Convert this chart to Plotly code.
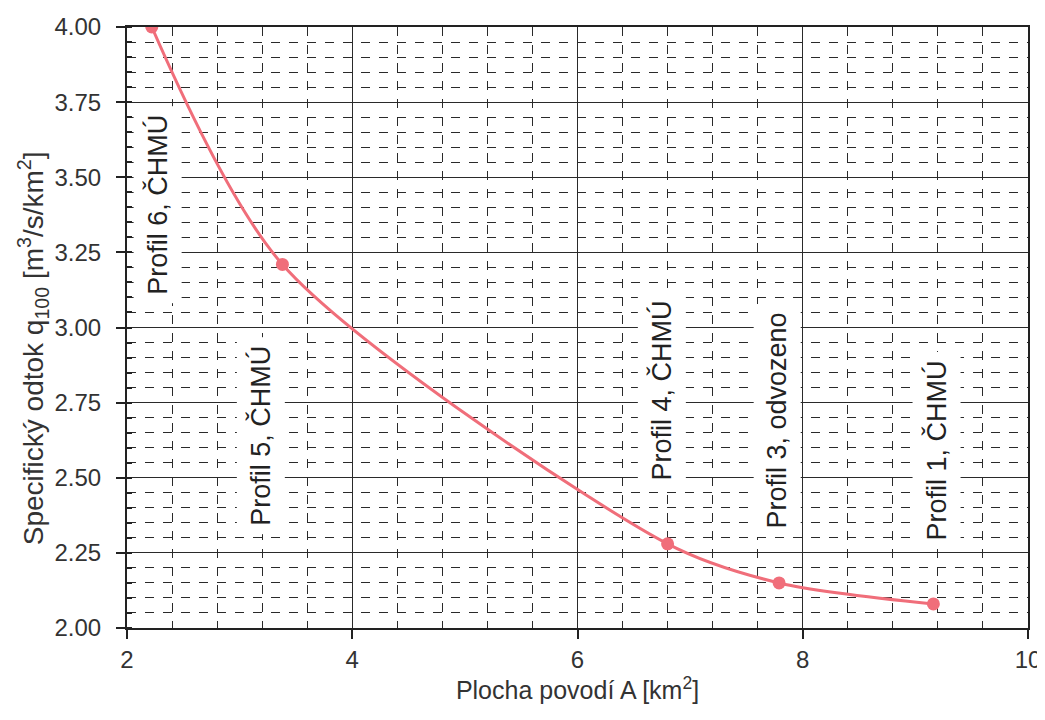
import plotly.graph_objects as go

area_km2 = [2.22, 3.38, 6.80, 7.79, 9.16]
q100 = [4.00, 3.21, 2.28, 2.15, 2.08]

label_texts = ["Profil 6, ČHMÚ", "Profil 5, ČHMÚ", "Profil 4, ČHMÚ", "Profil 3, odvozeno", "Profil 1, ČHMÚ"]
label_x = [2.27, 3.19, 6.75, 7.77, 9.19]
label_y = [3.41, 2.64, 2.79, 2.69, 2.59]

line_color = "#F06E7A"
grid_color = "#2a2a2a"
font_family = "Liberation Sans, Arial, sans-serif"

fig = go.Figure()
fig.add_trace(go.Scatter(
    x=area_km2, y=q100, mode="lines+markers",
    line=dict(color=line_color, width=3, shape="spline", smoothing=0.8),
    marker=dict(color=line_color, size=13),
    showlegend=False, hoverinfo="x+y",
))

for t, x, y in zip(label_texts, label_x, label_y):
    fig.add_annotation(
        x=x, y=y, xref="x", yref="y", text=t, textangle=-90,
        showarrow=False, bgcolor="white", borderpad=8,
        font=dict(size=27, color="#222", family=font_family),
    )

# y-axis title placed as annotation for precise position
fig.add_annotation(
    x=-0.104, y=0.466, xref="paper", yref="paper", xanchor="center", yanchor="middle",
    text="Specifický odtok q<sub>100</sub> [m<sup>3</sup>/s/km<sup>2</sup>]", textangle=-90,
    showarrow=False, font=dict(size=28, color="#333", family=font_family),
)

fig.update_layout(
    width=1045, height=720,
    margin=dict(l=119, r=25, t=19, b=100, autoexpand=False),
    paper_bgcolor="white", plot_bgcolor="white",
    font=dict(family=font_family, color="#333", size=21),
    xaxis=dict(
        range=[2, 10], dtick=2, tick0=2, showgrid=True, gridcolor=grid_color, gridwidth=1.3,
        ticks="outside", ticklen=9, tickcolor="#222", tickwidth=1.5, automargin=False,
        showline=True, linecolor="#222", linewidth=2, mirror=True, zeroline=False,
        tickfont=dict(size=24, color="#333"),
        minor=dict(dtick=0.4, tick0=2, showgrid=True, gridcolor=grid_color, griddash="dash", gridwidth=1, ticks=""),
        title=dict(text="Plocha povodí A [km<sup>2</sup>]", font=dict(size=25, color="#333"), standoff=8),
    ),
    yaxis=dict(
        range=[2, 4], dtick=0.25, tick0=2, tickformat=".2f", showgrid=True, gridcolor=grid_color, gridwidth=1.3,
        ticks="outside", ticklen=9, tickcolor="#222", tickwidth=1.5, automargin=False,
        showline=True, linecolor="#222", linewidth=2, mirror=True, zeroline=False,
        tickfont=dict(size=24, color="#333"), ticklabelstandoff=10,
        minor=dict(dtick=0.05, tick0=2, showgrid=True, gridcolor=grid_color, griddash="dash", gridwidth=1,
                   ticks="inside", ticklen=5, tickcolor="#222"),
    ),
)

fig.write_html("out.html")
